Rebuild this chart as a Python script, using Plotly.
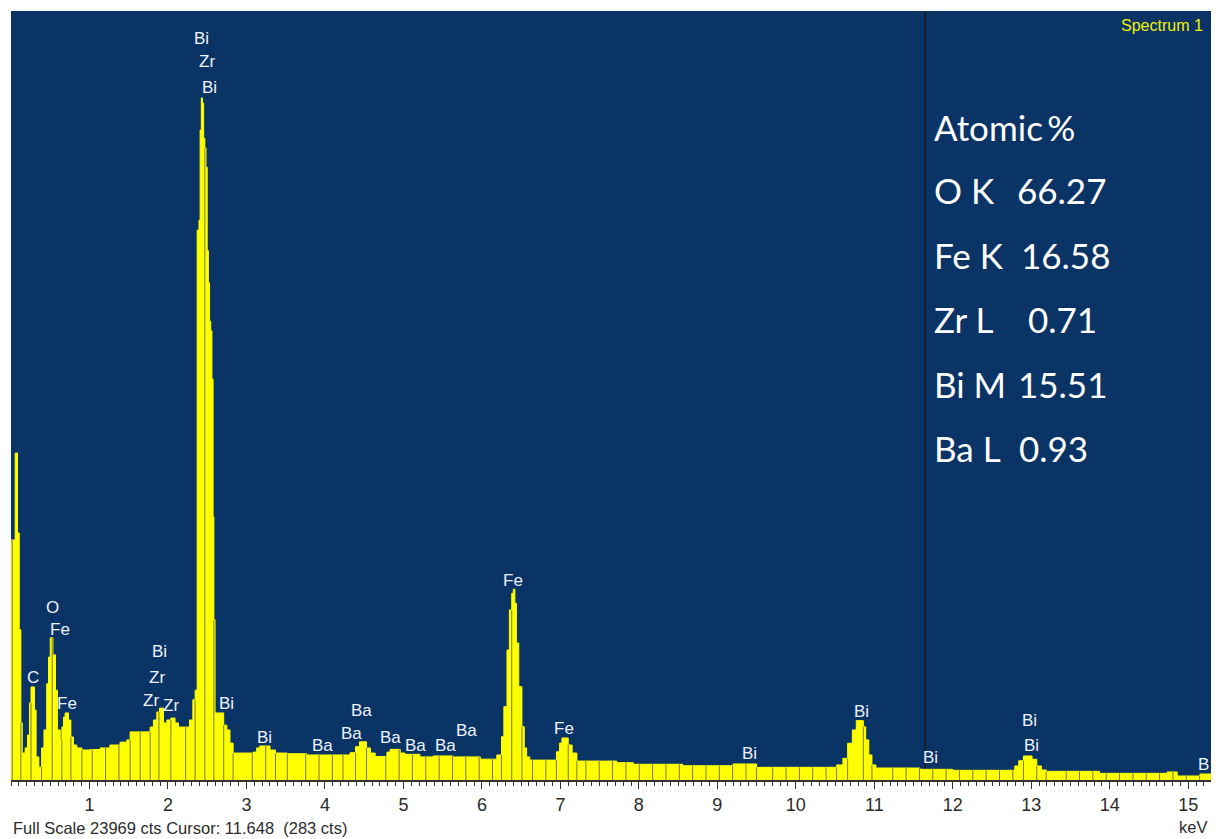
import numpy as np
import plotly.graph_objects as go

# ---- EDS spectrum (counts per energy bin, bin start in keV) ----
energy_kev = [
    0.00, 0.053, 0.083, 0.105, 0.126, 0.143, 0.18, 0.21, 0.235, 0.255,
    0.30, 0.32, 0.355, 0.39, 0.42, 0.455, 0.478, 0.50, 0.534, 0.567,
    0.592, 0.627, 0.648, 0.669, 0.69, 0.733, 0.763, 0.796, 0.839, 0.903,
    1.01, 1.136, 1.26, 1.39, 1.476, 1.518, 1.646, 1.773, 1.815, 1.858,
    1.892, 1.943, 1.986, 2.037, 2.09, 2.134, 2.24, 2.274, 2.317, 2.346,
    2.372, 2.395, 2.41, 2.425, 2.44, 2.455, 2.47, 2.485, 2.50, 2.515,
    2.53, 2.545, 2.56, 2.575, 2.585, 2.60, 2.71, 2.75, 2.79, 2.83,
    3.09, 3.13, 3.17, 3.30, 3.37, 3.52, 3.77, 4.23, 4.32, 4.39,
    4.44, 4.53, 4.58, 4.64, 4.79, 4.83, 4.96, 5.02, 5.21, 5.38,
    5.63, 5.98, 6.19, 6.25, 6.28, 6.32, 6.35, 6.38, 6.40, 6.42,
    6.44, 6.47, 6.51, 6.54, 6.57, 6.61, 6.95, 6.99, 7.02, 7.10,
    7.15, 7.21, 7.72, 7.93, 8.56, 9.20, 9.50, 10.52, 10.60, 10.66,
    10.72, 10.77, 10.86, 10.89, 10.93, 10.97, 11.02, 11.58, 12.00, 12.79,
    12.84, 12.90, 13.01, 13.07, 13.13, 13.19, 13.87, 14.73, 14.86, 15.15,
]
counts = [
    7480, 10190, 7700, 4680, 1780, 840, 1000, 1400, 2400, 2900,
    2180, 720, 400, 1000, 1560, 3000, 3830, 4430, 3900, 2800,
    1560, 1250, 1650, 1960, 2090, 1870, 1340, 1090, 1000, 935,
    950, 1000, 1090, 1180, 1250, 1500, 1500, 1650, 1870, 2120,
    2240, 1780, 1870, 1930, 1780, 1650, 1650, 1870, 2500, 2800,
    17140, 17450, 20260, 21260, 21100, 20000, 19700, 19100, 16500, 15500,
    14300, 14000, 12500, 8200, 5000, 2090, 1710, 1560, 1150, 840,
    870, 1000, 1060, 935, 840, 820, 780, 780, 850, 1040,
    1190, 1000, 840, 730, 870, 955, 840, 800, 720, 750,
    720, 650, 780, 1350, 2285, 4050, 5300, 5820, 5945, 5510,
    4270, 2910, 1660, 1000, 720, 620, 880, 1150, 1310, 1090,
    840, 590, 540, 490, 445, 500, 395, 470, 675, 1145,
    1560, 1850, 1660, 1250, 780, 470, 374, 333, 302, 436,
    600, 748, 645, 436, 312, 270, 208, 250, 125, 187,
]

FULL_SCALE = 23969          # cts
X_MAX = 15.29               # keV
CURSOR_KEV = 11.648
CURSOR_CTS = 283

# ---- peak identification labels ----
peak_symbols = ["C", "O", "Fe", "Fe", "Bi", "Zr", "Zr", "Zr", "Bi", "Zr", "Bi",
                "Bi", "Bi", "Ba", "Ba", "Ba", "Ba", "Ba", "Ba", "Ba", "Fe", "Fe",
                "Bi", "Bi", "Bi", "Bi", "Bi", "B"]
peak_label_kev = [0.283, 0.531, 0.627, 0.716, 1.888, 1.862, 1.786, 2.041, 2.423, 2.499, 2.525,
                  2.741, 3.226, 3.964, 4.334, 4.461, 4.831, 5.149, 5.531, 5.799, 6.397, 7.047,
                  9.404, 10.831, 11.710, 12.971, 13.009, 15.19]
peak_label_cts = [3180, 5390, 4680, 2370, 3990, 3210, 2490, 2310, 23100, 22380, 21570,
                  2370, 1340, 1090, 1460, 2180, 1310, 1090, 1060, 1530, 6230, 1590,
                  840, 2150, 690, 1870, 1090, 470]

# ---- quantification ----
quant_lines = ["O K", "Fe K", "Zr L", "Bi M", "Ba L"]
atomic_pct = [66.27, 16.58, 0.71, 15.51, 0.93]

NAVY = "#0a3466"
YELLOW = "#ffff00"
STREAK = "#77773f"
SANS = "Liberation Sans, Arial, sans-serif"

e = np.array(energy_kev, dtype=float)
c = np.array(counts, dtype=float)

fig = go.Figure()

# filled histogram of the spectrum
fig.add_trace(go.Scatter(
    x=np.append(e, X_MAX), y=np.append(c, c[-1]),
    mode="lines", line=dict(color=YELLOW, width=1, shape="hv"),
    fill="tozeroy", fillcolor=YELLOW, hoverinfo="skip",
))

# dark channel strokes inside the fill (display texture)
cands = sorted(set(e[1:].tolist()) | set(np.arange(0.015, X_MAX, 0.17).round(3).tolist()))
sx, sy = [], []
last = -1.0
for x in cands:
    if x - last < 0.11:
        continue
    last = x
    i = int(np.searchsorted(e, x, side="right")) - 1
    h = c[i]
    if i > 0 and abs(e[i] - x) < 1e-9:
        h = min(h, c[i - 1])
    sx += [x, x, None]
    sy += [0, h, None]
fig.add_trace(go.Scatter(x=sx, y=sy, mode="lines",
                         line=dict(color=STREAK, width=1), hoverinfo="skip"))

# cursor line
fig.add_shape(type="line", x0=CURSOR_KEV, x1=CURSOR_KEV, y0=0, y1=FULL_SCALE,
              xref="x", yref="y", line=dict(color="#15181f", width=1.5), layer="below")

annotations = []
for sym, xk, yc in zip(peak_symbols, peak_label_kev, peak_label_cts):
    annotations.append(dict(x=xk, y=yc, xref="x", yref="y", text=sym, showarrow=False,
                            xanchor="center", yanchor="middle",
                            font=dict(family=SANS, size=17, color="#eef3fb")))

# plot-area pixel geometry for paper positioning
PL, PW, PB, PH = 11, 1200, 780, 769
def px(xp):
    return (xp - PL) / PW
def py(yp):
    return (PB - yp) / PH

annotations.append(dict(x=px(1205), y=py(25), xref="paper", yref="paper", text="Spectrum 1",
                        showarrow=False, xanchor="right", yanchor="middle",
                        font=dict(family=SANS, size=16, color="#f2f200")))

BOX_FONT = dict(family="Lato, Open Sans, sans-serif", size=35, color="white")
annotations.append(dict(x=px(932), y=py(127), xref="paper", yref="paper", text="Atomic\u2009%",
                        showarrow=False, xanchor="left", yanchor="middle", font=BOX_FONT))
value_x = [1015, 1019, 1026, 1016, 1017]
for k, (lab, val) in enumerate(zip(quant_lines, atomic_pct)):
    ypix = 190 + 64.5 * k
    annotations.append(dict(x=px(932), y=py(ypix), xref="paper", yref="paper", text=lab,
                            showarrow=False, xanchor="left", yanchor="middle", font=BOX_FONT))
    annotations.append(dict(x=px(value_x[k]), y=py(ypix), xref="paper", yref="paper",
                            text=f"{val:.2f}", showarrow=False, xanchor="left",
                            yanchor="middle", font=BOX_FONT))

annotations.append(dict(x=px(11), y=py(828), xref="paper", yref="paper",
                        text=f"Full Scale {FULL_SCALE} cts Cursor: {CURSOR_KEV:.3f}\u00a0\u00a0({CURSOR_CTS} cts)",
                        showarrow=False, xanchor="left", yanchor="middle",
                        font=dict(family=SANS, size=16.5, color="#2b2b2b")))
annotations.append(dict(x=px(1209), y=py(827), xref="paper", yref="paper", text="keV",
                        showarrow=False, xanchor="right", yanchor="middle",
                        font=dict(family=SANS, size=16.5, color="#2b2b2b")))

fig.update_layout(
    width=1216, height=839,
    margin=dict(l=PL, r=1216 - PL - PW, t=11, b=839 - PB),
    paper_bgcolor="white", plot_bgcolor=NAVY,
    showlegend=False,
    annotations=annotations,
    xaxis=dict(
        range=[0, X_MAX], tickmode="array", tickvals=list(range(1, 16)),
        ticks="outside", ticklen=7, tickwidth=1, tickcolor="#333333",
        showline=True, linecolor="#333333", linewidth=2,
        showgrid=False, zeroline=False, fixedrange=True,
        tickfont=dict(family=SANS, size=18, color="#2b2b2b"),
        minor=dict(tick0=0, dtick=0.1, ticks="outside", ticklen=4,
                   tickcolor="#333333", showgrid=False),
    ),
    yaxis=dict(range=[0, FULL_SCALE], visible=False, showgrid=False,
               zeroline=False, fixedrange=True),
)

fig.write_html("out.html")
